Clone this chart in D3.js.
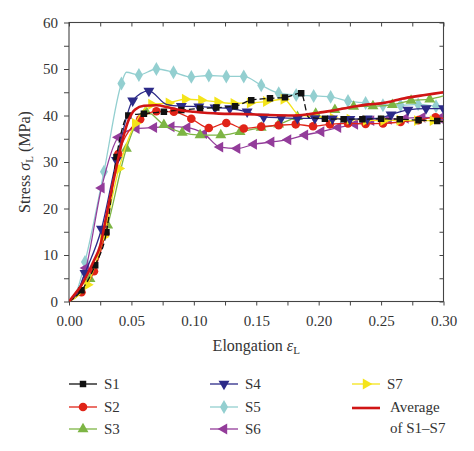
<!DOCTYPE html>
<html><head><meta charset="utf-8">
<script src="https://cdn.jsdelivr.net/npm/d3@7"></script>
<style>body{margin:0;background:#fff}svg{display:block}text{font-family:"Liberation Serif","DejaVu Serif",serif;fill:#333}</style>
</head><body><svg id="c" width="474" height="451"></svg>
<script>
// ---- data (elongation, stress MPa); optional third value 0 = no marker
const S1 = [[0,0,0],[0.010,2.4],[0.021,7.8],[0.030,14.9],[0.038,31.1],[0.0475,40.0],[0.060,40.4],[0.076,40.8],[0.090,41.2],[0.105,41.5],[0.118,41.7],[0.133,42.0],[0.146,43.3],[0.161,43.7],[0.173,43.9],[0.186,44.8],[0.192,39.6,0],[0.205,39.3],[0.220,39.2],[0.235,39.2],[0.250,39.3],[0.265,39.2],[0.280,39.0],[0.295,38.8],[0.30,38.7,0]];
const S2 = [[0,0,0],[0.010,2.0],[0.020,6.5],[0.029,14.6],[0.0395,31.7],[0.057,39.2],[0.070,40.9],[0.084,40.8],[0.098,39.3],[0.112,37.3],[0.126,38.4],[0.140,37.2],[0.154,37.6],[0.168,37.9],[0.1816,38.1],[0.1955,37.7],[0.209,38.1],[0.2235,38.3],[0.2376,38.2],[0.2515,38.3],[0.2656,38.6],[0.2797,39.0],[0.2936,39.6],[0.30,39.4,0]];
const S3 = [[0,0,0],[0.008,1.5,0],[0.0168,4.9],[0.031,16.4],[0.046,32.9],[0.0616,40.9],[0.076,38.0],[0.0907,36.3],[0.105,35.8],[0.1216,35.8],[0.137,36.5],[0.154,37.4],[0.168,38.1],[0.183,39.7],[0.1976,40.4],[0.213,41.2],[0.228,41.9],[0.2435,42.0],[0.259,42.3],[0.274,43.2],[0.289,43.5],[0.30,44.2,0]];
const S4 = [[0,0,0],[0.006,1.5,0],[0.0128,6.1],[0.026,15.6],[0.038,30.4],[0.051,43.2],[0.064,45.3],[0.078,42.4,0],[0.090,42.0],[0.104,41.9],[0.117,41.7],[0.1288,41.5],[0.1427,40.8],[0.156,39.7],[0.170,39.5],[0.183,39.4],[0.197,39.4],[0.211,39.3],[0.225,39.2],[0.239,39.3],[0.250,39.5,0],[0.258,40.2],[0.2715,41.2],[0.286,41.5],[0.30,41.5]];
const S5 = [[0,0,0],[0.006,2,0],[0.0128,8.5],[0.028,27.9],[0.042,46.9],[0.046,49.3,0],[0.056,48.7],[0.070,50.0],[0.0837,49.3],[0.098,48.3],[0.112,48.6],[0.126,48.4],[0.140,48.4],[0.154,46.5],[0.168,44.8],[0.182,44.4],[0.196,44.2],[0.2096,44.0],[0.2235,43.1],[0.2376,42.7],[0.2515,42.2],[0.2656,42.2],[0.2797,42.4],[0.294,42.0],[0.30,41.8,0]];
const S6 = [[0,0,0],[0.006,1.5,0],[0.0136,7.2],[0.026,24.4],[0.0395,35.3],[0.054,37.2],[0.068,37.4],[0.082,37.6],[0.0947,37.4],[0.108,36.1],[0.121,33.2],[0.1347,32.9],[0.148,33.8],[0.162,34.3],[0.1755,34.8],[0.189,35.8],[0.202,36.5],[0.2155,37.4],[0.229,38.1],[0.242,38.9],[0.256,39.2],[0.2696,39.4],[0.283,39.6],[0.297,39.4],[0.30,39.3,0]];
const S7 = [[0,0,0],[0.007,1.2,0],[0.0147,3.6],[0.0275,13.9],[0.040,28.6],[0.053,38.3],[0.066,42.4],[0.080,42.7],[0.093,43.5],[0.106,43.3],[0.119,42.9],[0.132,42.6],[0.145,42.7],[0.158,43.0],[0.172,43.5],[0.184,40.2,0],[0.198,39.7],[0.2115,39.4],[0.225,39.2],[0.238,39.0],[0.252,38.9],[0.265,39.0],[0.279,38.9],[0.2915,38.9],[0.30,38.7,0]];
const AVG = [[0,0],[0.005,1.7],[0.010,3.5],[0.015,6],[0.020,8.8],[0.025,12],[0.030,18.5],[0.035,25.2],[0.0395,30.8],[0.0435,35.4],[0.048,39.2],[0.053,41.3],[0.060,42.1],[0.070,42.2],[0.080,41.7],[0.090,41.1],[0.100,40.8],[0.120,40.4],[0.140,40.3],[0.160,40.1],[0.180,40.0],[0.190,40.2],[0.200,40.6],[0.210,41.0],[0.220,41.5],[0.230,42.0],[0.240,42.4],[0.250,42.6],[0.258,43.0],[0.265,43.5],[0.275,44.0],[0.285,44.4],[0.30,45.0]];

const seriesNames = ["S1","S2","S3","S4","S5","S6","S7"];
const seriesData = [S1,S2,S3,S4,S5,S6,S7];
const seriesColors = ["#111111","#e02418","#7db544","#2c2a88","#93cfd0","#933c9a","#f4e41a"];
const seriesSymbols = ["square","circle","up","down","diamond","left","right"];
const avgName = ["Average","of S1–S7"];
const avgColor = "#d01515";
const xTicks = [0,0.05,0.10,0.15,0.20,0.25,0.30];
const yTicks = [0,10,20,30,40,50,60];

// ---- layout
const svg = d3.select("#c");
const L=69, R=443.5, T=22.5, B=301.5;
const x = d3.scaleLinear().domain([0,0.30]).range([L,R]);
const y = d3.scaleLinear().domain([0,60]).range([B,T]);
const axisCol = "#444";

const g = svg.append("g");
g.append("rect").attr("x",L).attr("y",T).attr("width",R-L).attr("height",B-T)
 .attr("fill","none").attr("stroke",axisCol).attr("stroke-width",1.1);

const xMinor = d3.range(0,0.3001,0.025);
const yMinor = d3.range(0,60.01,5);
const ax = svg.append("g").attr("transform",`translate(${L},0)`)
  .call(d3.axisLeft(y).tickValues(yMinor).tickSize(5).tickFormat(""));
const ab = svg.append("g").attr("transform",`translate(0,${B})`)
  .call(d3.axisBottom(x).tickValues(xMinor).tickSize(4).tickFormat(""));
const at = svg.append("g").attr("transform",`translate(0,${T})`)
  .call(d3.axisBottom(x).tickValues(xMinor).tickSize(4).tickFormat(""));
const ar = svg.append("g").attr("transform",`translate(${R},0)`)
  .call(d3.axisRight(y).tickValues(yMinor).tickSize(-4).tickFormat(""));
[ax,ab,at,ar].forEach(a=>{a.select(".domain").remove();a.selectAll("line").attr("stroke",axisCol).attr("stroke-width",1);});
svg.append("g").attr("transform",`translate(${L},0)`)
  .call(d3.axisLeft(y).tickValues(yTicks).tickSize(0).tickPadding(11).tickFormat(d3.format("d")))
  .call(a=>{a.select(".domain").remove();a.selectAll("text").attr("font-size",15).attr("font-family","Liberation Serif").attr("fill","#333");});
svg.append("g").attr("transform",`translate(0,${B})`)
  .call(d3.axisBottom(x).tickValues(xTicks).tickSize(0).tickPadding(14).tickFormat(d3.format(".2f")))
  .call(a=>{a.select(".domain").remove();a.selectAll("text").attr("font-size",15).attr("font-family","Liberation Serif").attr("fill","#333");});

const xt = svg.append("text").attr("x",(L+R)/2).attr("y",351).attr("text-anchor","middle").attr("font-size",16);
xt.append("tspan").text("Elongation ");
xt.append("tspan").attr("font-style","italic").text("ε");
xt.append("tspan").attr("font-size",11).attr("dy",3).text("L");
const yt = svg.append("text").attr("transform","translate(30,162) rotate(-90)").attr("text-anchor","middle").attr("font-size",16);
yt.append("tspan").text("Stress ");
yt.append("tspan").attr("font-style","italic").text("σ");
yt.append("tspan").attr("font-size",11).attr("dy",3).text("L");
yt.append("tspan").attr("dy",-3).text(" (MPa)");

function sym(kind){
  const tri = d3.symbol().type(d3.symbolTriangle).size(52)();
  switch(kind){
    case "square": return {d:d3.symbol().type(d3.symbolSquare).size(42)(),r:0};
    case "circle": return {d:d3.symbol().type(d3.symbolCircle).size(58)(),r:0};
    case "diamond": return {d:d3.symbol().type(d3.symbolDiamond).size(56)(),r:0};
    case "up": return {d:tri,r:0};
    case "down": return {d:tri,r:180};
    case "left": return {d:tri,r:-90};
    case "right": return {d:tri,r:90};
  }
}

svg.append("clipPath").attr("id","pc").append("rect").attr("x",L).attr("y",T-10).attr("width",R-L).attr("height",B-T+10);
const plot = svg.append("g").attr("clip-path","url(#pc)");
const line = d3.line().x(d=>x(d[0])).y(d=>y(d[1])).curve(d3.curveMonotoneX);

const order = [4,5,2,1,6,3,0];
order.forEach(i=>{
  const gg = plot.append("g");
  gg.append("path").attr("d",line(seriesData[i])).attr("fill","none")
    .attr("stroke",seriesColors[i]).attr("stroke-width",1.3)
    .attr("stroke-dasharray", i===0 ? "6,3" : null);
  const s = sym(seriesSymbols[i]);
  gg.selectAll("path.m").data(seriesData[i].filter(d=>d[2]!==0)).join("path").attr("class","m")
    .attr("d",s.d).attr("fill",seriesColors[i])
    .attr("transform",d=>`translate(${x(d[0])},${y(d[1])}) rotate(${s.r})`);
});
plot.append("path").attr("d",line(AVG)).attr("fill","none").attr("stroke",avgColor).attr("stroke-width",2.6);

const cols = [69,210,352];
const rows = [384,407,429];
seriesNames.forEach((n,i)=>{
  const cx = cols[Math.floor(i/3)], cy = rows[i%3];
  const lg = svg.append("g");
  lg.append("line").attr("x1",cx).attr("x2",cx+28).attr("y1",cy).attr("y2",cy).attr("stroke",seriesColors[i]).attr("stroke-width",1.3);
  const s = sym(seriesSymbols[i]);
  lg.append("path").attr("d",s.d).attr("fill",seriesColors[i]).attr("transform",`translate(${cx+14},${cy}) rotate(${s.r})`);
  lg.append("text").attr("x",cx+35).attr("y",cy+5).attr("font-size",15).text(n);
});
svg.append("line").attr("x1",cols[2]).attr("x2",cols[2]+28).attr("y1",rows[1]+1).attr("y2",rows[1]+1).attr("stroke",avgColor).attr("stroke-width",2.6);
svg.append("text").attr("x",cols[2]+38).attr("y",rows[1]+5).attr("font-size",15).text(avgName[0]);
svg.append("text").attr("x",cols[2]+38).attr("y",rows[2]+4).attr("font-size",15).text(avgName[1]);
</script></body></html>
